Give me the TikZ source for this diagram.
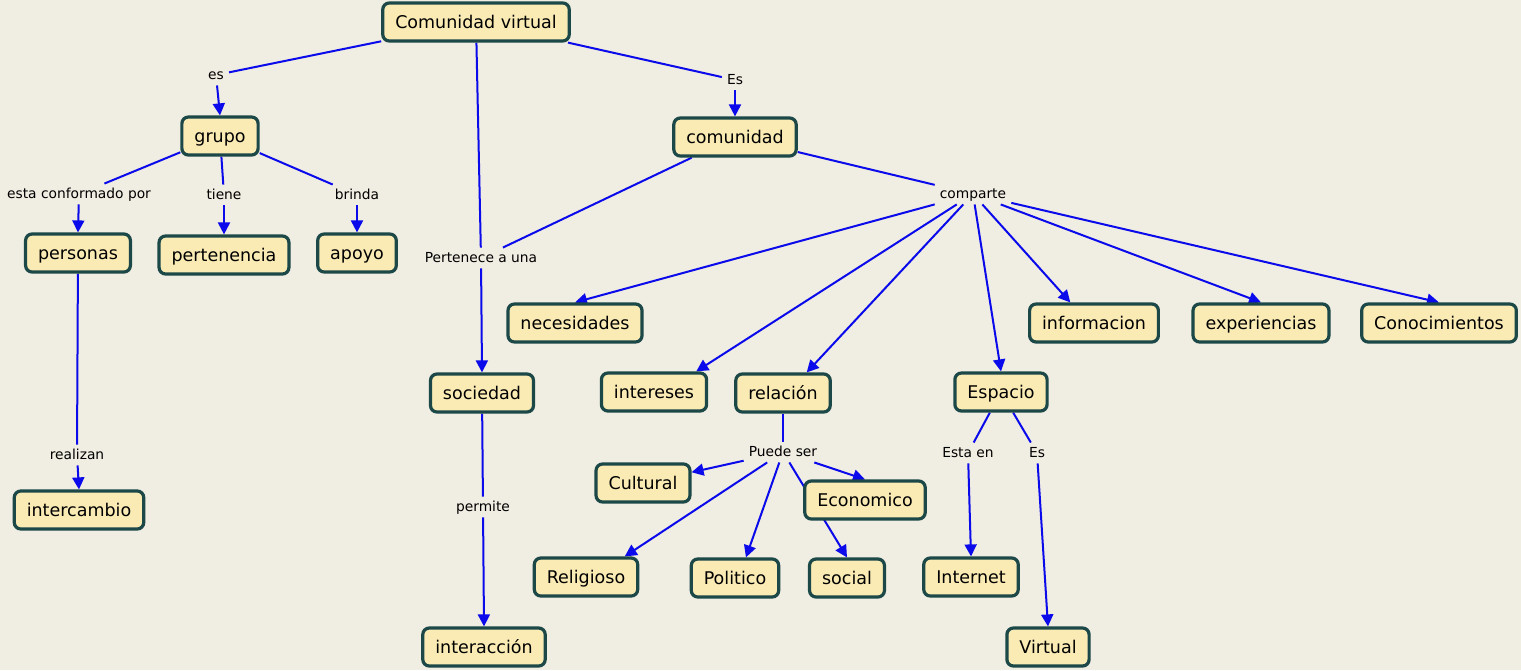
\documentclass[tikz,border=0pt]{standalone}
\usepackage{fontspec}
\setmainfont{DejaVu Sans}
\usetikzlibrary{arrows.meta,backgrounds}
\definecolor{fondo}{RGB}{240,237,226}
\definecolor{relleno}{RGB}{250,235,181}
\definecolor{borde}{RGB}{28,72,72}
\definecolor{enlace}{RGB}{10,10,235}
\begin{document}
\begin{tikzpicture}[x=1pt,y=-1pt,
  concepto/.style={draw=borde,fill=relleno,line width=3.2pt,rounded corners=6.5pt,
    minimum height=38pt,inner xsep=12.5pt,text height=13pt,text depth=0pt,
    font=\fontsize{17.5}{20}\selectfont},
  frase/.style={inner xsep=5pt,inner ysep=5.5pt,text height=9.5pt,text depth=0pt,
    font=\fontsize{13.8}{16}\selectfont},
  linea/.style={draw=enlace,line width=2pt},
  flecha/.style={linea,-{Triangle[length=12pt,width=12pt]}}]
  \useasboundingbox (0,0) rectangle (1521,670);
  \begin{scope}[on background layer]
    \fill[fondo] (0,0) rectangle (1521,670);
  \end{scope}
  % conceptos
  \node[concepto] (cv) at (476,22) {Comunidad virtual};
  \node[concepto] (grupo) at (220,136) {grupo};
  \node[concepto] (comunidad) at (735,137) {comunidad};
  \node[concepto] (personas) at (78,253) {personas};
  \node[concepto] (pertenencia) at (224,255) {pertenencia};
  \node[concepto] (apoyo) at (357,253) {apoyo};
  \node[concepto] (intercambio) at (79,510) {intercambio};
  \node[concepto] (sociedad) at (482,393) {sociedad};
  \node[concepto] (interaccion) at (484,647) {interacción};
  \node[concepto] (necesidades) at (575,323) {necesidades};
  \node[concepto] (intereses) at (654,392) {intereses};
  \node[concepto] (relacion) at (783,393) {relación};
  \node[concepto] (espacio) at (1001,392) {Espacio};
  \node[concepto] (informacion) at (1094,323) {informacion};
  \node[concepto] (experiencias) at (1261,323) {experiencias};
  \node[concepto] (conocimientos) at (1439,323) {Conocimientos};
  \node[concepto] (cultural) at (643,483) {Cultural};
  \node[concepto] (economico) at (865,500) {Economico};
  \node[concepto] (religioso) at (586,577) {Religioso};
  \node[concepto] (politico) at (735,578) {Politico};
  \node[concepto] (social) at (847,578) {social};
  \node[concepto] (internet) at (971,577) {Internet};
  \node[concepto] (virtual) at (1048,647) {Virtual};
  % frases de enlace
  \node[frase] (fes) at (216,75) {es};
  \node[frase] (fEs) at (735,80) {Es};
  \node[frase] (fconf) at (79,194) {esta conformado por};
  \node[frase] (ftiene) at (224,195) {tiene};
  \node[frase] (fbrinda) at (357,195) {brinda};
  \node[frase] (fpert) at (481,258) {Pertenece a una};
  \node[frase] (fcomparte) at (973,194) {comparte};
  \node[frase] (frealizan) at (77,455) {realizan};
  \node[frase] (fpermite) at (483,507) {permite};
  \node[frase] (fpuede) at (783,452) {Puede ser};
  \node[frase] (festaen) at (968,453) {Esta en};
  \node[frase] (fesp) at (1037,453) {Es};
  \begin{scope}[on background layer]
    \draw[linea] (cv) -- (fes);
    \draw[flecha] (fes) -- (grupo.north);
    \draw[linea] (cv) -- (fEs);
    \draw[flecha] (fEs) -- (comunidad.north);
    \draw[linea] (cv) -- (fpert);
    \draw[linea] (comunidad) -- (fpert);
    \draw[flecha] (fpert) -- (sociedad.north);
    \draw[linea] (grupo) -- (fconf);
    \draw[flecha] (fconf) -- (personas.north);
    \draw[linea] (grupo) -- (ftiene);
    \draw[flecha] (ftiene) -- (pertenencia.north);
    \draw[linea] (grupo) -- (fbrinda);
    \draw[flecha] (fbrinda) -- (apoyo.north);
    \draw[linea] (personas) -- (frealizan);
    \draw[flecha] (frealizan) -- (intercambio.north);
    \draw[linea] (sociedad) -- (fpermite);
    \draw[flecha] (fpermite) -- (interaccion.north);
    \draw[linea] (comunidad) -- (fcomparte);
    \draw[flecha] (fcomparte) -- (necesidades.north);
    \draw[flecha] (fcomparte) -- (intereses.26);
    \draw[flecha] (fcomparte) -- (relacion.41);
    \draw[flecha] (fcomparte) -- (espacio.north);
    \draw[flecha] (fcomparte) -- (informacion.139);
    \draw[flecha] (fcomparte) -- (experiencias.north);
    \draw[flecha] (fcomparte) -- (conocimientos.north);
    \draw[linea] (relacion) -- (fpuede);
    \draw[flecha] (fpuede) -- (cultural);
    \draw[flecha] (fpuede) -- (economico.north);
    \draw[flecha] (fpuede) -- (religioso.28);
    \draw[flecha] (fpuede) -- (politico.62);
    \draw[flecha] (fpuede) -- (social.north);
    \draw[linea] (espacio) -- (festaen);
    \draw[flecha] (festaen) -- (internet.north);
    \draw[linea] (espacio) -- (fesp);
    \draw[flecha] (fesp) -- (virtual.north);
  \end{scope}
\end{tikzpicture}
\end{document}
